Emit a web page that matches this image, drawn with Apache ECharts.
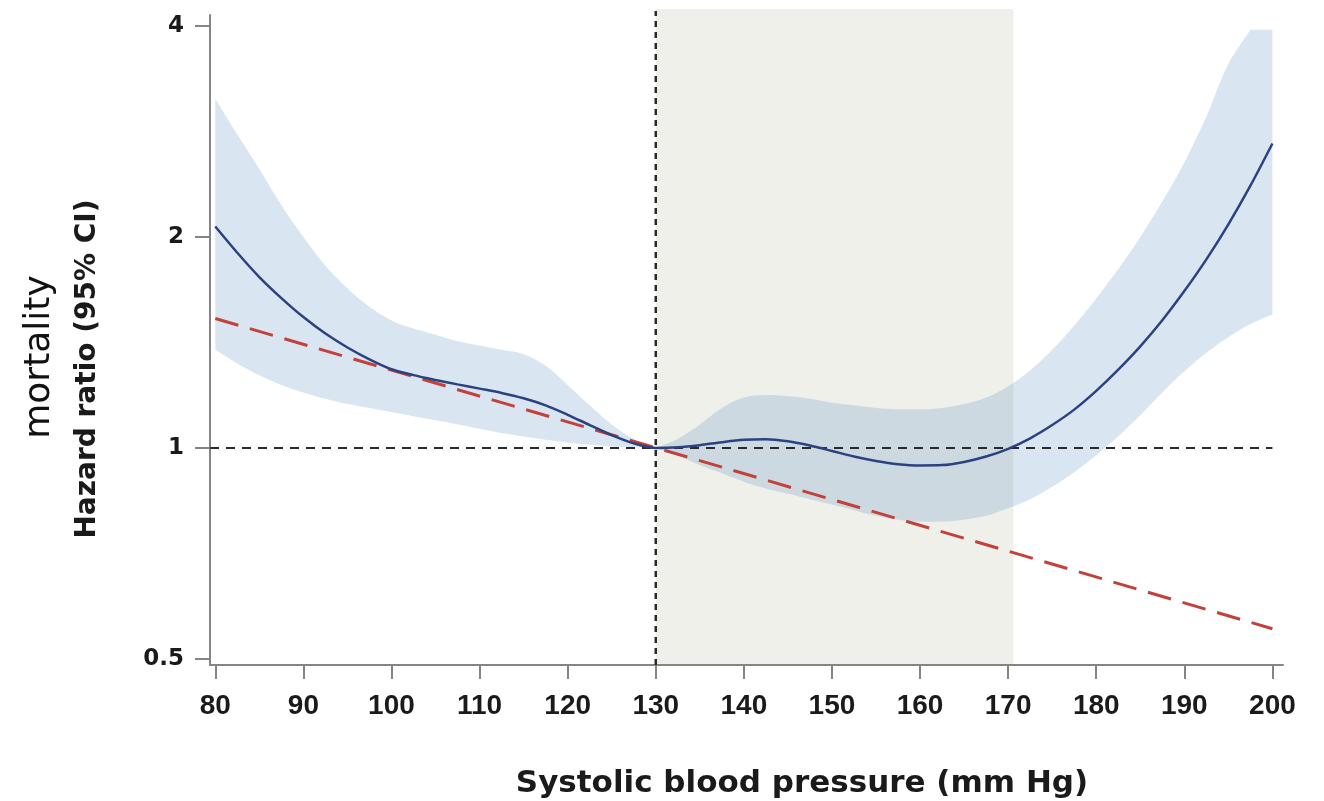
<!DOCTYPE html>
<html>
<head>
<meta charset="utf-8">
<script src="https://cdn.jsdelivr.net/npm/echarts@6/dist/echarts.min.js"></script>
<style>
  html, body { margin: 0; padding: 0; background: #ffffff; }
  #chart { width: 1324px; height: 801px; }
</style>
</head>
<body>
<div id="chart"></div>
<script>
// ---------------- data ----------------
const sbp = [80, 82.5, 85, 87.5, 90, 92.5, 95, 97.5, 100, 102.5, 105, 107.5, 110, 112.5, 115, 117.5,
  120, 122.5, 125, 127.5, 130, 132.5, 135, 137.5, 140, 142.5, 145, 147.5, 150, 152.5, 155, 157.5,
  160, 162.5, 165, 167.5, 170, 172.5, 175, 177.5, 180, 182.5, 185, 187.5, 190, 192.5, 195, 197.5, 200];

const hrFit = [2.07, 1.899, 1.753, 1.636, 1.537, 1.456, 1.391, 1.338, 1.295, 1.27, 1.25, 1.232, 1.215, 1.198, 1.177, 1.15,
  1.115, 1.078, 1.043, 1.015, 1.0, 1.002, 1.009, 1.019, 1.027, 1.029, 1.022, 1.008, 0.99, 0.972, 0.958, 0.948,
  0.944, 0.945, 0.955, 0.972, 0.997, 1.032, 1.078, 1.134, 1.206, 1.293, 1.396, 1.521, 1.674, 1.858, 2.085, 2.367, 2.719];

const ciUpper = [3.15, 2.80, 2.50, 2.22, 2.00, 1.82, 1.69, 1.59, 1.52, 1.48, 1.45, 1.42, 1.40, 1.38, 1.36, 1.31,
  1.23, 1.15, 1.08, 1.03, 1.0, 1.03, 1.08, 1.14, 1.18, 1.19, 1.185, 1.175, 1.16, 1.15, 1.14, 1.135,
  1.135, 1.14, 1.155, 1.18, 1.225, 1.29, 1.38, 1.495, 1.634, 1.80, 2.0, 2.247, 2.555, 2.97, 3.53, 3.95, 3.95];

const ciLower = [1.38, 1.32, 1.27, 1.23, 1.20, 1.175, 1.155, 1.14, 1.125, 1.11, 1.095, 1.08, 1.065, 1.05, 1.038, 1.027,
  1.018, 1.01, 1.005, 1.002, 1.0, 0.975, 0.945, 0.92, 0.895, 0.875, 0.86, 0.845, 0.83, 0.815, 0.80, 0.79,
  0.785, 0.785, 0.79, 0.80, 0.82, 0.845, 0.88, 0.923, 0.976, 1.039, 1.113, 1.2, 1.286, 1.367, 1.439, 1.502, 1.55];

// linear (log-scale) reference model
const linearX = [80, 200];
const linearHR = [1.53, 0.552];

// reference line HR = 1 and reference SBP
const refLineX = [79.4, 200];
const refLineHR = [1, 1];
const refSBP = 130;

// shaded target range
const shadeRange = [130, 170.6];

// axes
const xTicks = [80, 90, 100, 110, 120, 130, 140, 150, 160, 170, 180, 190, 200];
const yTicks = [0.5, 1, 2, 4];
const xRange = [79.4, 201.2];
const yRange = [0.49, 4.147];

const xTitle = 'Systolic blood pressure (mm Hg)';
const yTitle = 'Hazard ratio (95% CI)';
const yTitle2 = 'mortality';

// ---------------- chart ----------------
const chart = echarts.init(document.getElementById('chart'), null, { renderer: 'canvas' });

const axisColor = '#858585';
const labelColor = '#1a1a1a';

const option = {
  backgroundColor: '#ffffff',
  animation: false,
  grid: { left: 210, right: 41, top: 15, bottom: 136, containLabel: false, outerBoundsMode: 'none' },
  xAxis: {
    type: 'value',
    min: xRange[0], max: xRange[1],
    axisLine: { show: true, onZero: false, lineStyle: { color: axisColor, width: 2 } },
    axisTick: { show: true, length: 14, customValues: xTicks, lineStyle: { color: axisColor, width: 2 } },
    axisLabel: {
      customValues: xTicks, margin: 27, color: labelColor,
      fontFamily: 'Liberation Sans', fontWeight: 'bold', fontSize: 28,
      formatter: v => String(Math.round(v))
    },
    splitLine: { show: false }
  },
  yAxis: {
    type: 'log', logBase: 2,
    min: yRange[0], max: yRange[1],
    axisLine: { show: true, onZero: false, lineStyle: { color: axisColor, width: 2 } },
    axisTick: { show: true, length: 15, customValues: yTicks, lineStyle: { color: axisColor, width: 2 } },
    axisLabel: {
      customValues: yTicks, margin: 26, color: labelColor,
      fontFamily: 'DejaVu Sans', fontWeight: 'bold', fontSize: 23,
      formatter: v => String(+(+v).toFixed(2))
    },
    splitLine: { show: false },
    minorTick: { show: false }, minorSplitLine: { show: false }
  },
  graphic: [
    {
      type: 'text', x: 802, y: 784,
      style: { text: xTitle, fill: labelColor, font: 'bold 31px "DejaVu Sans"', align: 'center', verticalAlign: 'middle' }
    },
    {
      type: 'text', x: 88, y: 369, rotation: Math.PI / 2,
      style: { text: yTitle, fill: labelColor, font: 'bold 28px "DejaVu Sans"', align: 'center', verticalAlign: 'middle' }
    },
    {
      type: 'text', x: 40, y: 357, rotation: Math.PI / 2,
      style: { text: yTitle2, fill: '#111111', font: 'normal 36px "DejaVu Sans"', align: 'center', verticalAlign: 'middle' }
    }
  ],
  series: [
    {
      // shaded target range
      type: 'custom', name: 'range', z: 1, silent: true, clip: false,
      data: [[shadeRange[0], 1]],
      renderItem: (params, api) => {
        const bl = api.coord([shadeRange[0], yRange[0]]);
        const tr = api.coord([shadeRange[1], yRange[1]]);
        const top = tr[1] - 6;
        return { type: 'rect', shape: { x: bl[0], y: top, width: tr[0] - bl[0], height: bl[1] - top - 1 },
          style: { fill: '#eef0e9' } };
      }
    },
    {
      // 95% CI band (smoothed outline; sharp at ends, plateaus and at the pinch point)
      type: 'custom', name: 'CI', z: 2, silent: true, clip: true,
      data: [[refSBP, 1]],
      renderItem: (params, api) => {
        const n = sbp.length;
        const sharpU = i => i === 0 || i === n - 1 || ciUpper[i] === ciLower[i] ||
          (i + 1 < n && ciUpper[i] === ciUpper[i + 1]);
        const sharpL = i => i === 0 || i === n - 1 || ciUpper[i] === ciLower[i];
        const pts = [];
        for (let i = 0; i < n; i++) {
          const p = api.coord([sbp[i], ciUpper[i]]);
          pts.push(p); if (sharpU(i)) pts.push(p.slice());
        }
        for (let i = n - 1; i >= 0; i--) {
          const p = api.coord([sbp[i], ciLower[i]]);
          pts.push(p); if (sharpL(i)) pts.push(p.slice());
        }
        return { type: 'polygon', shape: { points: pts, smooth: 0.35 }, style: { fill: 'rgba(97,144,200,0.235)' } };
      }
    },
    {
      type: 'line', name: 'ref1', z: 3, silent: true, showSymbol: false,
      data: refLineX.map((x, i) => [x, refLineHR[i]]),
      lineStyle: { color: '#2a2a2a', width: 2, type: [9, 7] }
    },
    {
      // vertical dotted line at reference SBP
      type: 'custom', name: 'vref', z: 3, silent: true, clip: false,
      data: [[refSBP, 1]],
      renderItem: (params, api) => {
        const b = api.coord([refSBP, yRange[0]]);
        const t = api.coord([refSBP, yRange[1]]);
        return { type: 'line', shape: { x1: b[0], y1: b[1], x2: t[0], y2: t[1] - 4 },
          style: { stroke: '#2a2a2a', lineWidth: 2.5, lineDash: [6, 5] } };
      }
    },
    {
      type: 'line', name: 'linear', z: 4, silent: true, showSymbol: false,
      data: linearX.map((x, i) => [x, linearHR[i]]),
      lineStyle: { color: '#c2413b', width: 3, type: [24, 12] }
    },
    {
      type: 'line', name: 'spline', z: 5, silent: true, showSymbol: false, smooth: 0.3,
      data: sbp.map((x, i) => [x, hrFit[i]]),
      lineStyle: { color: '#2b4282', width: 2.5 }
    }
  ]
};
chart.setOption(option);
</script>
</body>
</html>
